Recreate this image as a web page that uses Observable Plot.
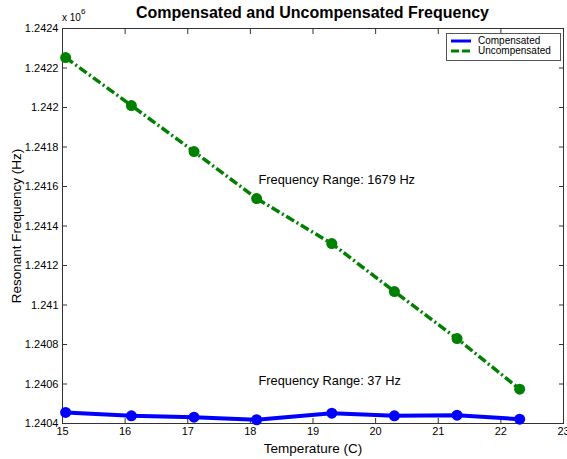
<!DOCTYPE html>
<html><head><meta charset="utf-8">
<script src="https://cdn.jsdelivr.net/npm/d3@7"></script>
<script src="https://cdn.jsdelivr.net/npm/@observablehq/plot@0.6"></script>
<style>
body{margin:0;background:#fff;font-family:"Liberation Sans",Arial,sans-serif}
#wrap{position:relative;width:567px;height:459px;overflow:hidden}
#title{position:absolute;left:62px;width:501px;top:4px;text-align:center;font-weight:bold;font-size:16px;color:#000}
#exp{position:absolute;left:62px;top:10px;font-size:10px;color:#000}
#exp sup{font-size:8px;position:relative;top:-3px}
#legend{position:absolute;left:446px;top:33px;width:113px;height:26px;border:1px solid #555;background:#fff;font-size:10px;line-height:12px}
.li{position:absolute;left:4px;display:flex;align-items:center;height:12px}
.li svg{margin-right:7px}
</style></head><body><div id="wrap">
<div id="title">Compensated and Uncompensated Frequency</div>
<div id="exp">x 10<sup>6</sup></div>
</div>
<script>
const temperature = [15.05, 16.1, 17.1, 18.1, 19.3, 20.3, 21.3, 22.3];
const compensated = [1240456, 1240439, 1240432, 1240419, 1240452, 1240439, 1240442, 1240422];
const uncompensated = [1242253, 1242010, 1241777, 1241539, 1241311, 1241068, 1240830, 1240574];
const seriesNames = ["Compensated", "Uncompensated"];
const seriesColors = ["#0000ff", "#008000"];
const xTicks = [15, 16, 17, 18, 19, 20, 21, 22, 23];
const yTicks = [1240400, 1240600, 1240800, 1241000, 1241200, 1241400, 1241600, 1241800, 1242000, 1242200, 1242400];
const annotations = [
  {x: 18.13, y: 1241631, text: "Frequency Range: 1679 Hz"},
  {x: 18.13, y: 1240614, text: "Frequency Range: 37 Hz"}
];

const comp = temperature.map((t, i) => ({t, f: compensated[i]}));
const unc = temperature.map((t, i) => ({t, f: uncompensated[i]}));
const yfmt = d => String(+(d / 1e6).toFixed(4));

const chart = Plot.plot({
  width: 567, height: 459,
  marginLeft: 62, marginRight: 4, marginTop: 28, marginBottom: 36,
  style: {fontFamily: "Liberation Sans, Arial, sans-serif", fontSize: "11px", color: "#000", background: "#fff"},
  x: {domain: [15, 23]},
  y: {domain: [1240400, 1242400]},
  marks: [
    Plot.frame({stroke: "#333"}),
    Plot.axisX({ticks: xTicks, tickSize: -5, tickPadding: 9, label: "Temperature (C)", labelAnchor: "center", labelArrow: "none", labelOffset: 29, fontSize: 11, stroke: "#333"}),
    Plot.axisX({anchor: "top", ticks: xTicks, tickSize: -5, tickFormat: () => "", label: null, stroke: "#333"}),
    Plot.axisY({ticks: yTicks, tickSize: -5, tickPadding: 9, tickFormat: yfmt, label: "Resonant Frequency (Hz)", labelAnchor: "center", labelArrow: "none", labelOffset: 51, fontSize: 11, stroke: "#333"}),
    Plot.axisY({anchor: "right", ticks: yTicks, tickSize: -5, tickFormat: () => "", label: null, stroke: "#333"}),
    Plot.line(unc, {x: "t", y: "f", stroke: seriesColors[1], strokeWidth: 3.5, strokeDasharray: "9,3,2,3", strokeLinecap: "butt"}),
    Plot.dot(unc, {x: "t", y: "f", r: 5.5, fill: seriesColors[1]}),
    Plot.line(comp, {x: "t", y: "f", stroke: seriesColors[0], strokeWidth: 4}),
    Plot.dot(comp, {x: "t", y: "f", r: 5.5, fill: seriesColors[0]}),
    Plot.text(annotations, {x: "x", y: "y", text: "text", textAnchor: "start", fontSize: 12.8, fill: "#000"})
  ]
});
chart.style.position = "absolute";
chart.style.left = "0";
chart.style.top = "0";
const wrap = document.getElementById("wrap");
wrap.prepend(chart);
chart.querySelectorAll("text").forEach(t => {
  if (t.textContent === "Temperature (C)" || t.textContent === "Resonant Frequency (Hz)") t.style.fontSize = "13.5px";
});

const legend = document.createElement("div");
legend.id = "legend";
seriesNames.forEach((name, i) => {
  const row = document.createElement("div");
  row.className = "li";
  row.style.top = (i === 0 ? 1 : 11) + "px";
  const ns = "http://www.w3.org/2000/svg";
  const sw = document.createElementNS(ns, "svg");
  sw.setAttribute("width", 20); sw.setAttribute("height", 6);
  const ln = document.createElementNS(ns, "line");
  ln.setAttribute("x1", 0); ln.setAttribute("x2", 20); ln.setAttribute("y1", 3); ln.setAttribute("y2", 3);
  ln.setAttribute("stroke", seriesColors[i]); ln.setAttribute("stroke-width", 3);
  if (i === 1) ln.setAttribute("stroke-dasharray", "8,3");
  sw.append(ln);
  const lab = document.createElement("span");
  lab.textContent = name;
  row.append(sw, lab);
  legend.append(row);
});
wrap.append(legend);
</script>
</body></html>
